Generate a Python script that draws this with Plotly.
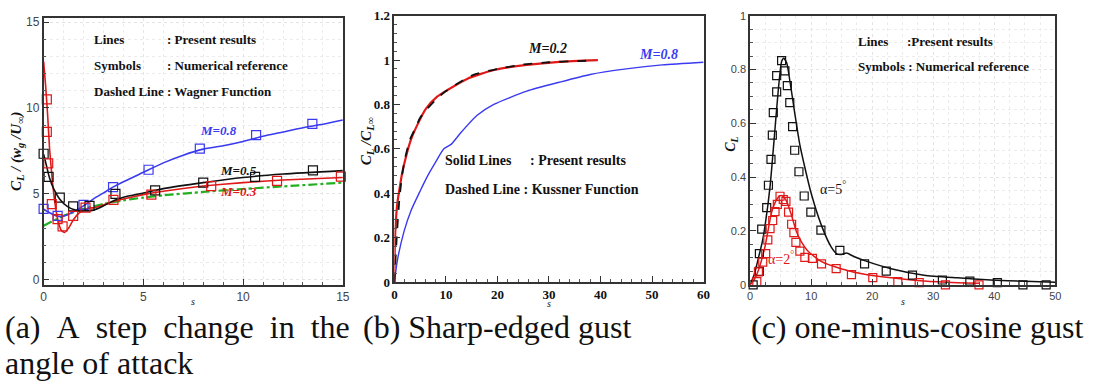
import plotly.graph_objects as go

W, H = 1095, 388

# ---------------- Panel (a): step change in angle of attack ----------------
a_s_m08 = [0, 0.3, 0.7, 1.0, 1.5, 2.0, 2.5, 3.0, 3.5, 4.0, 5.0, 6.0, 7.0, 8.0, 9.0, 10.0, 11.0, 12.0, 13.0, 14.0, 15.0]
a_cl_m08 = [4.1, 3.9, 3.7, 3.7, 3.95, 4.3, 4.7, 5.05, 5.4, 5.7, 6.25, 6.8, 7.25, 7.6, 7.8, 8.05, 8.35, 8.6, 8.85, 9.05, 9.3]
a_s_m08_ref = [0, 0.7, 2.0, 3.48, 5.26, 7.83, 10.65, 13.47]
a_cl_m08_ref = [4.12, 3.71, 4.36, 5.39, 6.4, 7.63, 8.42, 9.07]

a_s_m05 = [0, 0.15, 0.3, 0.5, 0.8, 1.2, 1.6, 2.0, 2.5, 3.0, 3.5, 4.0, 5.0, 6.0, 8.0, 10.0, 12.0, 15.0]
a_cl_m05 = [7.3, 6.6, 5.9, 5.3, 4.7, 4.25, 4.05, 4.0, 4.05, 4.3, 4.6, 4.8, 5.05, 5.3, 5.65, 5.95, 6.15, 6.35]
a_s_m05_ref = [0, 0.25, 0.81, 1.48, 2.3, 3.6, 5.59, 8.0, 10.6, 13.5]
a_cl_m05_ref = [7.33, 5.99, 4.78, 4.27, 4.3, 5.0, 5.2, 5.65, 5.99, 6.36]

a_s_m03 = [0, 0.1, 0.2, 0.3, 0.45, 0.6, 0.75, 0.9, 1.05, 1.25, 1.5, 1.8, 2.2, 2.6, 3.0, 3.5, 4.0, 5.0, 6.0, 8.0, 10.0, 12.0, 15.0]
a_cl_m03 = [12.7, 11.3, 9.6, 7.6, 5.6, 4.2, 3.3, 2.85, 2.75, 3.0, 3.5, 3.9, 4.15, 4.2, 4.35, 4.55, 4.7, 4.95, 5.15, 5.45, 5.65, 5.8, 5.95]
a_s_m03_ref = [0.16, 0.16, 0.23, 0.41, 0.7, 0.95, 1.48, 2.1, 3.5, 5.4, 8.4, 11.7, 14.9]
a_cl_m03_ref = [10.5, 8.6, 6.77, 4.4, 3.52, 3.1, 3.71, 4.2, 4.65, 4.95, 5.45, 5.75, 6.0]

a_s_wagner = [0, 1, 2, 3, 4, 5, 6, 8, 10, 12, 15]
a_cl_wagner = [3.14, 3.72, 4.12, 4.41, 4.62, 4.78, 4.91, 5.11, 5.28, 5.43, 5.65]

# ---------------- Panel (b): sharp-edged gust ----------------
b_s_m02 = [0, 0.1, 0.3, 0.6, 1.0, 1.5, 2.2, 3.2, 4.5, 6.1, 8.3, 10.3, 14.1, 19.3, 25.7, 32, 39.5]
b_cl_m02 = [0, 0.18, 0.28, 0.36, 0.42, 0.49, 0.56, 0.64, 0.71, 0.78, 0.835, 0.865, 0.915, 0.955, 0.978, 0.992, 1.0]
b_s_kussner = [0, 0.5, 1, 1.5, 2, 3, 4, 5, 6, 8, 10, 15, 20, 25, 30, 35, 39]
b_cl_kussner = [0, 0.22, 0.38, 0.48, 0.55, 0.64, 0.69, 0.74, 0.77, 0.82, 0.86, 0.93, 0.96, 0.98, 0.99, 0.995, 0.998]
b_s_m08 = [0, 0.6, 1.9, 3.2, 5, 6.4, 8, 9.6, 11, 12.8, 16, 19.3, 25.7, 32, 38, 45, 52, 60]
b_cl_m08 = [0, 0.1, 0.23, 0.32, 0.41, 0.476, 0.54, 0.6, 0.62, 0.67, 0.75, 0.80, 0.86, 0.90, 0.935, 0.96, 0.978, 0.99]

# ---------------- Panel (c): one-minus-cosine gust ----------------
c_s_a5 = [0, 0.7, 1.36, 2.0, 2.45, 3.26, 4.08, 4.6, 5.16, 5.5, 6.0, 6.5, 7.3, 8.15, 8.97, 10.0, 11.7, 13.3, 14.2, 15.0, 15.8, 17, 18.75, 23.1, 28.5, 34, 39.4, 45, 50]
c_cl_a5 = [0, 0.04, 0.10, 0.16, 0.22, 0.364, 0.58, 0.72, 0.83, 0.842, 0.824, 0.76, 0.64, 0.52, 0.436, 0.34, 0.22, 0.14, 0.115, 0.113, 0.118, 0.105, 0.09, 0.06, 0.036, 0.026, 0.018, 0.013, 0.01]
c_s_a5_ref = [0.5, 1.5, 1.52, 1.9, 2.72, 3.0, 3.42, 3.64, 3.8, 4.35, 4.35, 5.16, 5.7, 6.1, 6.5, 6.96, 7.3, 8.0, 8.86, 9.95, 11.6, 14.7, 18.75, 22.3, 26.6, 31.5, 36, 40.5, 44.7, 48.5]
c_cl_a5_ref = [0.0, 0.05, 0.116, 0.207, 0.287, 0.37, 0.466, 0.556, 0.64, 0.717, 0.777, 0.833, 0.795, 0.74, 0.677, 0.588, 0.50, 0.42, 0.33, 0.27, 0.203, 0.128, 0.078, 0.051, 0.036, 0.018, 0.014, 0.008, 0.0, 0.0]

c_s_a2 = [0, 0.7, 1.36, 2.45, 3.53, 4.35, 4.9, 5.4, 6.0, 6.8, 7.6, 8.4, 9.5, 11.7, 14.9, 18.75, 23.1, 28.5, 34, 37.5]
c_cl_a2 = [0, 0.02, 0.054, 0.143, 0.27, 0.317, 0.331, 0.329, 0.31, 0.257, 0.197, 0.16, 0.125, 0.086, 0.06, 0.039, 0.026, 0.014, 0.008, 0.006]
c_s_a2_ref = [1.1, 1.36, 2.07, 2.55, 2.9, 3.26, 3.7, 4.08, 4.46, 4.9, 5.43, 5.87, 6.3, 6.8, 7.17, 7.5, 8.15, 8.97, 10.2, 11.7, 14.1, 16.6, 20.1, 24.2, 27.7, 32, 37.5]
c_cl_a2_ref = [0.012, 0.048, 0.084, 0.116, 0.167, 0.209, 0.239, 0.272, 0.299, 0.329, 0.317, 0.31, 0.27, 0.225, 0.194, 0.158, 0.125, 0.102, 0.098, 0.078, 0.06, 0.038, 0.027, 0.012, 0.008, 0.0, 0.0]

GAP = "\u00a0\u00a0"
captions = [GAP.join(["(a)", "A", "step", "change", "in", "the"]), "angle of attack",
            "(b) Sharp-edged gust", "(c) one-minus-cosine gust"]

BLUE = "#3a3af0"
RED = "#e01818"
BLACK = "#111111"
GREEN = "#22b022"
SERIF = "Liberation Serif"
SANS = "Liberation Sans"

fig = go.Figure()


def line(x, y, color, ax, width=1.6, dash="solid", smooth=0.6):
    fig.add_trace(go.Scatter(x=x, y=y, mode="lines", xaxis=ax[0], yaxis=ax[1],
                             line=dict(color=color, width=width, dash=dash, shape="spline", smoothing=smooth),
                             showlegend=False, hoverinfo="skip"))


def marks(x, y, color, ax, size=9):
    fig.add_trace(go.Scatter(x=x, y=y, mode="markers", xaxis=ax[0], yaxis=ax[1], cliponaxis=False,
                             marker=dict(symbol="square-open", size=size, color=color, line=dict(width=1.2, color=color)),
                             showlegend=False, hoverinfo="skip"))


A = ("x", "y")
B = ("x2", "y2")
C = ("x3", "y3")

line(a_s_wagner, a_cl_wagner, GREEN, A, width=2.2, dash="dashdot")
line(a_s_m08, a_cl_m08, BLUE, A)
line(a_s_m03, a_cl_m03, RED, A, smooth=0.4)
line(a_s_m05, a_cl_m05, BLACK, A)
marks(a_s_m08_ref, a_cl_m08_ref, BLUE, A)
marks(a_s_m05_ref, a_cl_m05_ref, BLACK, A)
marks(a_s_m03_ref, a_cl_m03_ref, RED, A)

line(b_s_m08, b_cl_m08, BLUE, B, width=1.4)
line(b_s_m02, b_cl_m02, RED, B, width=2.2)
line(b_s_kussner, b_cl_kussner, BLACK, B, width=1.8, dash="dash")

line(c_s_a5, c_cl_a5, BLACK, C, width=1.5)
line(c_s_a2, c_cl_a2, RED, C, width=1.5)
marks(c_s_a5_ref, c_cl_a5_ref, BLACK, C, size=8)
marks(c_s_a2_ref, c_cl_a2_ref, RED, C, size=8)


def dom_x(l, r):
    return [l / W, r / W]


def dom_y(t, b):
    return [1 - b / H, 1 - t / H]


def axis(domain, rng, dtick, mdtick, font, grid, anchor):
    return dict(domain=domain, range=rng, dtick=dtick, tick0=0, anchor=anchor,
                ticks="inside", ticklen=6, tickwidth=1.3, tickcolor="#333",
                showline=True, mirror=True, linecolor="#333", linewidth=1.6,
                zeroline=False, showgrid=grid, gridcolor="#e4e4e4", griddash="dot", gridwidth=1,
                minor=dict(dtick=mdtick, tick0=0, ticks="inside", ticklen=3, tickcolor="#555",
                           showgrid=grid, gridcolor="#ececec", griddash="dot", gridwidth=1),
                tickfont=font, fixedrange=True)


fa = dict(family=SANS, size=12, color="#444")
fb = dict(family=SERIF, size=13, color="#111", weight="bold")
fc = dict(family=SANS, size=11, color="#444")

fig.update_layout(
    width=W, height=H, margin=dict(l=0, r=0, t=0, b=0),
    paper_bgcolor="white", plot_bgcolor="white", showlegend=False,
    xaxis=axis(dom_x(41, 343), [0, 15], 5, 1, fa, True, "y"),
    yaxis=axis(dom_y(11, 289), [-0.3, 15.26], 5, 1, fa, True, "x"),
    xaxis2=axis(dom_x(395, 707), [0, 60], 10, 2, fb, False, "y2"),
    yaxis2=axis(dom_y(9, 286), [0, 1.2], 0.2, 0.04, fb, False, "x2"),
    xaxis3=axis(dom_x(754, 1062), [0, 50], 10, 2.5, fc, True, "y3"),
    yaxis3=axis(dom_y(9, 289), [0, 1], 0.2, 0.05, fc, True, "x3"),
)

ann = []


def pnote(x, y, text, size=13, color=BLACK, family=SERIF, bold=True, italic=False, xanchor="left", angle=0):
    t = text
    if bold:
        t = "<b>" + t + "</b>"
    if italic:
        t = "<i>" + t + "</i>"
    ann.append(dict(x=x / W, y=1 - y / H, xref="paper", yref="paper", text=t, showarrow=False,
                    xanchor=xanchor, yanchor="middle", textangle=angle,
                    font=dict(family=family, size=size, color=color)))


def dnote(ax, x, y, text, size=13, color=BLACK, bold=True, italic=True):
    t = text
    if bold:
        t = "<b>" + t + "</b>"
    if italic:
        t = "<i>" + t + "</i>"
    ann.append(dict(x=x, y=y, xref=ax[0], yref=ax[1], text=t, showarrow=False,
                    xanchor="center", yanchor="middle", font=dict(family=SERIF, size=size, color=color)))


# Panel (a) texts
pnote(90, 34, "Lines")
pnote(163, 34, ": Present results")
pnote(90, 61, "Symbols")
pnote(163, 61, ": Numerical reference")
pnote(90, 88, "Dashed Line : Wagner Function")
dnote(A, 8.75, 8.66, "M=0.8", size=13, color=BLUE)
dnote(A, 9.75, 6.36, "M=0.5", size=13, color=BLACK)
dnote(A, 9.75, 5.13, "M=0.3", size=13, color=RED)
pnote(14, 150, "<i>C<sub>L</sub> / (w<sub>g</sub> /U<sub>∞</sub>)</i>", size=15, xanchor="center", angle=-90)

# Panel (b) texts
pnote(444, 160, "Solid Lines", size=14)
pnote(530, 160, ": Present results", size=14)
pnote(444, 190, "Dashed Line : Kussner Function", size=14)
dnote(B, 29.8, 1.053, "M=0.2", size=14, color=BLACK)
dnote(B, 51.3, 1.027, "M=0.8", size=14, color=BLUE)
pnote(367, 140, "<i>C<sub>L</sub> /C<sub>L∞</sub></i>", size=15, xanchor="center", angle=-90)

# Panel (c) texts
pnote(861, 36, "Lines")
pnote(910, 36, ":Present results")
pnote(861, 62, "Symbols : Numerical reference")
dnote(C, 13.6, 0.36, "α=5<sup>°</sup>", size=14, color=BLACK, bold=False, italic=False)
dnote(C, 5.0, 0.098, "α=2<sup>°</sup>", size=14, color=RED, bold=False, italic=False)
pnote(735, 143, "<i>C<sub>L</sub></i>", size=14, xanchor="center", angle=-90)

# axis "s" labels
for xc, yc in ((192, 306), (551, 308), (908, 306)):
    pnote(xc, yc, "<i>s</i>", size=10, bold=False, xanchor="center")

# captions
pnote(0, 333, captions[0], size=32, bold=False)
pnote(0, 370, captions[1], size=32, bold=False)
pnote(361, 333, captions[2], size=32, bold=False)
pnote(753, 333, captions[3], size=32, bold=False)

fig.update_layout(annotations=ann)
fig.write_html("out.html")
